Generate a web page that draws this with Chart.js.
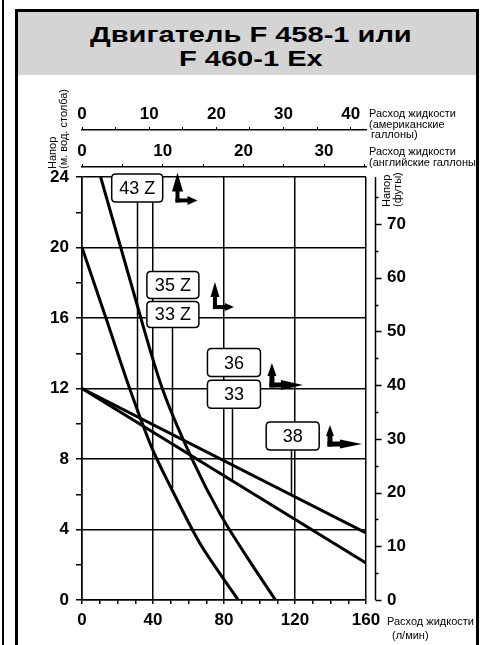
<!DOCTYPE html>
<html>
<head>
<meta charset="utf-8">
<script src="https://cdn.jsdelivr.net/npm/chart.js@4.4.1/dist/chart.umd.min.js"></script>
<style>
  html, body { margin: 0; padding: 0; background: #fff; }
  body { width: 484px; height: 645px; position: relative; overflow: hidden; font-family: "Liberation Sans", Arial, sans-serif; }
  #edge { position: absolute; left: 2px; top: 0; width: 2px; height: 645px; background: #000; }
  #frame { position: absolute; left: 15px; top: 9px; width: 458px; height: 680px; border: 3px solid #000; }
  #title { background: #d4d4d4; height: 63px; box-sizing: border-box; padding: 11px 0 0 8px; text-align: center;
           font-weight: bold; font-size: 22px; line-height: 24px; color: #000; }
  #title span { display: inline-block; transform: scaleX(1.32); transform-origin: 50% 50%; }
  #chart { position: absolute; left: 0; top: 0; }
</style>
</head>
<body>
<div id="edge"></div>
<div id="frame"><div id="title"><span>Двигатель F 458-1 или<br>F 460-1 Ex</span></div></div>
<canvas id="chart" width="484" height="645"></canvas>
<script>
// head curves, flow in l/min, head in m
const flow43Z = [0, 13.5, 27.2, 39.5, 50.5, 66.5, 77.7, 88];
const head43Z = [20, 16, 11.9, 8.6, 6.3, 3.2, 1.5, 0];
const flow35Z = [10.5, 27.5, 44.9, 62.5, 77.7, 92.8, 109];
const head35Z = [24, 18, 12.1, 7.9, 4.9, 2.46, 0];
const flow33 = [0, 160];
const head33 = [12, 2.1];
const flow38 = [0, 160];
const head38 = [12, 3.8];

// labelled ticks
const flowTicks = [0, 40, 80, 120, 160];
const headTicks = [0, 4, 8, 12, 16, 20, 24];
const feetTicks = [0, 10, 20, 30, 40, 50, 60, 70];
const usGalTicks = [0, 10, 20, 30, 40];
const ukGalTicks = [0, 10, 20, 30];

// boxed curve labels
const boxTexts = ["43 Z", "35 Z", "33 Z", "36", "33", "38"];

const M_TO_FT = 3.28084;
const L_PER_USGAL = 3.78541;
const L_PER_UKGAL = 4.54609;

const black = "#000";
const tickFont = { family: "'Liberation Sans', Arial, sans-serif", size: 17, weight: "bold" };
const smallFont = "11px 'Liberation Sans', Arial, sans-serif";

// box placement in data units (centre), size in px; leader goes down to the curve
const boxLayout = [
  { x: 31.1, y: 23.38, w: 51, h: 28, lx: 31.2, ly: 10.6 },
  { x: 51.2, y: 17.87, w: 52, h: 27 },
  { x: 51.2, y: 16.2, w: 52, h: 26, lx: 50.5, ly: 6.35 },
  { x: 85.6, y: 13.47, w: 53, h: 28 },
  { x: 85.6, y: 11.68, w: 53, h: 28, lx: 84.7, ly: 6.8 },
  { x: 118.7, y: 9.31, w: 53, h: 28, lx: 117.7, ly: 5.97 }
];

// "up + right" arrow icons, corner in data units, sizes in px
const arrowLayout = [
  { x: 53.8, y: 22.67, up: 28, right: 20, w: 4, uhw: 11, uhl: 19, rhw: 9, rhl: 10 },
  { x: 74.9, y: 16.62, up: 25, right: 19, w: 4, uhw: 9, uhl: 15, rhw: 8, rhl: 9 },
  { x: 107.0, y: 12.2, up: 22, right: 31, w: 5, uhw: 9, uhl: 13, rhw: 10, rhl: 22 },
  { x: 139.7, y: 8.85, up: 19, right: 32, w: 5, uhw: 8, uhl: 11, rhw: 9, rhl: 22 }
];

function toPoints(xs, ys) {
  return xs.map((x, i) => ({ x: x, y: ys[i] }));
}

function curve(label, xs, ys) {
  return {
    label: label,
    data: toPoints(xs, ys),
    showLine: true,
    borderColor: black,
    borderWidth: 3,
    pointRadius: 0,
    cubicInterpolationMode: "monotone"
  };
}

function roundRect(ctx, x, y, w, h, r) {
  ctx.beginPath();
  ctx.moveTo(x + r, y);
  ctx.lineTo(x + w - r, y);
  ctx.quadraticCurveTo(x + w, y, x + w, y + r);
  ctx.lineTo(x + w, y + h - r);
  ctx.quadraticCurveTo(x + w, y + h, x + w - r, y + h);
  ctx.lineTo(x + r, y + h);
  ctx.quadraticCurveTo(x, y + h, x, y + h - r);
  ctx.lineTo(x, y + r);
  ctx.quadraticCurveTo(x, y, x + r, y);
  ctx.closePath();
}

function drawArrow(ctx, cx, cy, a) {
  const hw = a.w / 2;
  ctx.fillRect(cx - hw, cy - a.up + a.uhl - 1, a.w, a.up - a.uhl + 1 + hw);
  ctx.beginPath();
  ctx.moveTo(cx, cy - a.up);
  ctx.lineTo(cx - a.uhw / 2, cy - a.up + a.uhl);
  ctx.lineTo(cx + a.uhw / 2, cy - a.up + a.uhl);
  ctx.closePath();
  ctx.fill();
  ctx.fillRect(cx - hw, cy - hw, a.right - a.rhl + hw + 1, a.w);
  ctx.beginPath();
  ctx.moveTo(cx + a.right, cy);
  ctx.lineTo(cx + a.right - a.rhl, cy - a.rhw / 2);
  ctx.lineTo(cx + a.right - a.rhl, cy + a.rhw / 2);
  ctx.closePath();
  ctx.fill();
}

function rotatedText(ctx, text, x, y) {
  ctx.save();
  ctx.translate(x, y);
  ctx.rotate(-Math.PI / 2);
  ctx.textAlign = "left";
  ctx.textBaseline = "alphabetic";
  ctx.fillText(text, 0, 0);
  ctx.restore();
}

const decorPlugin = {
  id: "decor",
  beforeDatasetsDraw(chart) {
    const { ctx, scales: { x, y } } = chart;
    ctx.save();
    ctx.strokeStyle = black;
    ctx.lineWidth = 1.5;
    boxLayout.forEach(b => {
      if (b.lx === undefined) return;
      const px = Math.round(x.getPixelForValue(b.lx)) + 0.5;
      ctx.beginPath();
      ctx.moveTo(px, y.getPixelForValue(b.y));
      ctx.lineTo(px, y.getPixelForValue(b.ly));
      ctx.stroke();
    });
    ctx.restore();
  },
  afterDatasetsDraw(chart) {
    const { ctx, scales: { x, y } } = chart;
    ctx.save();
    ctx.lineWidth = 1.5;
    ctx.strokeStyle = black;
    ctx.font = "18px 'Liberation Sans', Arial, sans-serif";
    ctx.textAlign = "center";
    ctx.textBaseline = "middle";
    boxLayout.forEach((b, i) => {
      const cx = x.getPixelForValue(b.x);
      const cy = y.getPixelForValue(b.y);
      roundRect(ctx, cx - b.w / 2, cy - b.h / 2, b.w, b.h, 4);
      ctx.fillStyle = "#fff";
      ctx.fill();
      ctx.stroke();
      ctx.fillStyle = black;
      ctx.fillText(boxTexts[i], cx, cy + 1);
    });
    arrowLayout.forEach(a => drawArrow(ctx, x.getPixelForValue(a.x), y.getPixelForValue(a.y), a));
    ctx.restore();
  },
  afterDraw(chart) {
    const { ctx, scales: { y2 } } = chart;
    ctx.save();
    // feet axis, set a little to the right of the plot
    const ax = y2.left + 9.5;
    ctx.strokeStyle = black;
    ctx.lineWidth = 1.5;
    ctx.beginPath();
    ctx.moveTo(ax, y2.top);
    ctx.lineTo(ax, y2.bottom);
    for (let v = 0; v < y2.max; v += 5) {
      const py = Math.round(y2.getPixelForValue(v)) + 0.5;
      ctx.moveTo(ax, py);
      ctx.lineTo(ax + (feetTicks.includes(v) ? 6 : 3), py);
    }
    ctx.stroke();

    ctx.fillStyle = black;
    ctx.font = smallFont;
    ctx.textAlign = "left";
    ctx.textBaseline = "middle";
    ctx.fillText("Расход жидкости", 369, 114);
    ctx.fillText("(американские", 369, 124.5);
    ctx.fillText("галлоны)", 371, 135);
    ctx.fillText("Расход жидкости", 369, 152);
    ctx.fillText("(английские галлоны)", 369, 163);
    ctx.fillText("Расход жидкости", 387, 622);
    ctx.fillText("(л/мин)", 392, 636);

    rotatedText(ctx, "Напор", 56, 169);
    rotatedText(ctx, "(м. вод. столба)", 67, 169);
    rotatedText(ctx, "Напор", 390, 207);
    rotatedText(ctx, "(футы)", 401, 207);
    ctx.restore();
  }
};

new Chart(document.getElementById("chart"), {
  type: "scatter",
  data: {
    datasets: [
      curve("43 Z", flow43Z, head43Z),
      curve("35 Z", flow35Z, head35Z),
      curve("33", flow33, head33),
      curve("38", flow38, head38)
    ]
  },
  options: {
    responsive: false,
    animation: false,
    devicePixelRatio: 1,
    layout: { padding: { left: 42, right: 68, top: 100, bottom: 15 } },
    plugins: { legend: { display: false }, tooltip: { enabled: false } },
    scales: {
      x: {
        type: "linear", position: "bottom", min: 0, max: 160,
        afterFit: s => { s.height = 30; },
        grid: {
          color: c => flowTicks.includes(c.tick.value) ? black : "rgba(0,0,0,0)",
          tickColor: black, lineWidth: 1.5, tickLength: 4
        },
        border: { color: black, width: 1.5 },
        ticks: {
          stepSize: 10, autoSkip: false, maxRotation: 0, padding: 6, color: black, font: tickFont,
          callback: v => flowTicks.includes(v) ? v : ""
        }
      },
      y: {
        type: "linear", position: "left", min: 0, max: 24,
        afterFit: s => { s.width = 40; },
        grid: {
          color: c => headTicks.includes(c.tick.value) ? black : "rgba(0,0,0,0)",
          tickColor: black, lineWidth: 1.5, tickLength: 6
        },
        border: { color: black, width: 1.5 },
        ticks: {
          stepSize: 2, autoSkip: false, padding: 7, color: black, font: tickFont,
          callback: v => headTicks.includes(v) ? v : ""
        }
      },
      y2: {
        type: "linear", axis: "y", position: "right", min: 0, max: 24 * M_TO_FT,
        afterFit: s => { s.width = 50; },
        grid: { display: false, drawTicks: false },
        border: { display: false },
        ticks: {
          stepSize: 10, includeBounds: false, autoSkip: false, padding: 21, color: black, font: tickFont,
          callback: v => feetTicks.includes(v) ? v : ""
        }
      },
      x2: {
        type: "linear", axis: "x", position: "top", weight: 3, min: 0, max: 160 / L_PER_USGAL,
        afterFit: s => { s.height = 30; },
        grid: { drawOnChartArea: false, tickColor: black, tickLength: 3 },
        border: { color: black, width: 1.5 },
        ticks: {
          stepSize: 5, includeBounds: false, autoSkip: false, maxRotation: 0, padding: 2, color: black, font: tickFont,
          callback: v => usGalTicks.includes(v) ? v : ""
        }
      },
      x3: {
        type: "linear", axis: "x", position: "top", weight: 2, min: 0, max: 160 / L_PER_UKGAL,
        afterFit: s => { s.height = 37; },
        grid: { drawOnChartArea: false, tickColor: black, tickLength: 3 },
        border: { color: black, width: 1.5 },
        ticks: {
          stepSize: 5, includeBounds: false, autoSkip: false, maxRotation: 0, padding: 2, color: black, font: tickFont,
          callback: v => ukGalTicks.includes(v) ? v : ""
        }
      },
      // empty strip between the imperial gallon axis and the plot
      gap: {
        type: "linear", axis: "x", position: "top", weight: 1, min: 0, max: 1,
        afterFit: s => { s.height = 10; },
        grid: { display: false },
        border: { display: false },
        ticks: { display: false }
      }
    }
  },
  plugins: [decorPlugin]
});
</script>
</body>
</html>
